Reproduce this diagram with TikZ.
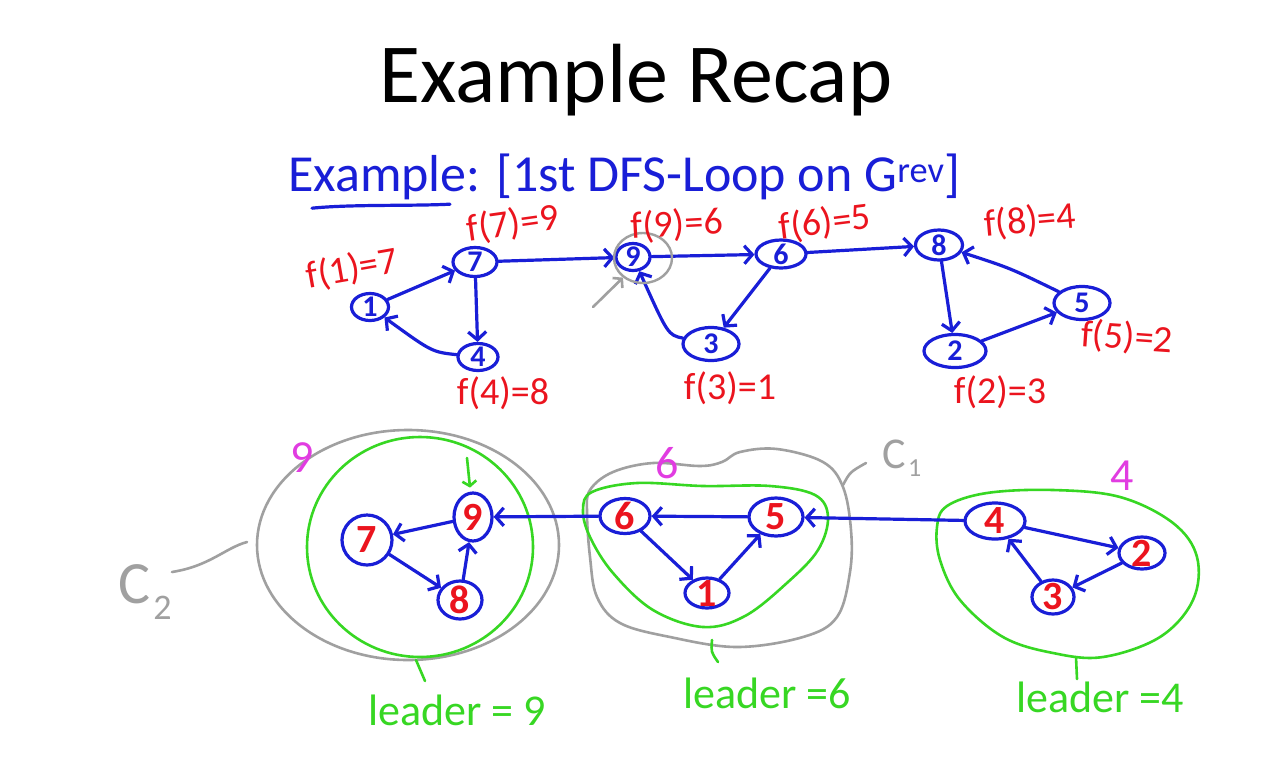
\documentclass[tikz,border=0pt]{standalone}
\usepackage{fontspec}
\setmainfont{Carlito}
\usetikzlibrary{arrows.meta,shapes.geometric,calc}
\definecolor{inkblue}{RGB}{25,30,215}
\definecolor{inkred}{RGB}{235,20,30}
\definecolor{inkgreen}{RGB}{55,215,35}
\definecolor{inkgray}{RGB}{160,160,160}
\definecolor{inkpink}{RGB}{225,60,225}
\tikzset{
  vtx/.style={ellipse, draw=inkblue, line width=3.2pt, inner sep=-3pt},
  topv/.style={vtx, text=inkblue, font=\fontsize{30}{30}\selectfont\bfseries},
  botv/.style={vtx, text=inkred, font=\fontsize{40}{40}\selectfont\bfseries},
  edge/.style={draw=inkblue, line width=3.2pt, line cap=round,
    -{Straight Barb[length=8pt,width=18pt]}},
  flab/.style={text=inkred, font=\fontsize{38}{38}\selectfont, inner sep=0pt},
  glab/.style={text=inkgreen, font=\fontsize{44}{44}\selectfont, inner sep=0pt},
  plab/.style={text=inkpink, font=\fontsize{46}{46}\selectfont, inner sep=0pt},
  graylab/.style={text=inkgray, inner sep=0pt},
  grayline/.style={draw=inkgray, line width=2.6pt, line cap=round},
  greenline/.style={draw=inkgreen, line width=2.6pt, line cap=round},
}
\begin{document}
\begin{tikzpicture}[x=1pt,y=-1pt]
\useasboundingbox[fill=white] (0,0) rectangle (1263,756);

% heading
\node[font=\fontsize{84}{84}\selectfont] (title) at (636,80) {Example Recap};
\node[anchor=west, text=inkblue, font=\fontsize{52}{52}\selectfont, inner sep=0pt]
  (hdr) at (288,177) {Example: [1st DFS-Loop on G\textsuperscript{rev}]};
\draw[draw=inkblue, line width=3.2pt, line cap=round]
  (hdr.south west) ++(24,8) .. controls +(40,-4) and +(-40,2) .. ++(138,-4);

% ---- first pass on the reversed graph ----
\node[topv, minimum width=37, minimum height=27] (t1) at (370,307) {1};
\node[topv, minimum width=44, minimum height=29] (t7) at (475,262) {7};
\node[topv, minimum width=40, minimum height=27] (t4) at (478,357) {4};
\node[topv, minimum width=34, minimum height=27] (t9) at (633,257) {9};
\node[topv, minimum width=50, minimum height=28] (t6) at (781,254) {6};
\node[topv, minimum width=56, minimum height=33] (t3) at (711,344) {3};
\node[topv, minimum width=47, minimum height=30] (t8) at (939,245) {8};
\node[topv, minimum width=56, minimum height=33] (t5) at (1082,303) {5};
\node[topv, minimum width=62, minimum height=33] (t2) at (955,351) {2};

\draw[edge] (t1) -- (t7);
\draw[edge] (t7) -- (t4);
\draw[edge] (t4) .. controls (432,352) .. (t1);
\draw[edge] (t7) -- (t9);
\draw[edge] (t9) -- (t6);
\draw[edge] (t6) -- (t3);
\draw[edge] (t3) .. controls (668,335) .. (t9);
\draw[edge] (t6) -- (t8);
\draw[edge] (t8) -- (t2);
\draw[edge] (t2) -- (t5);
\draw[edge] (t5) .. controls (1010,268) .. (t8);

% gray ring marking the start vertex
\node[ellipse, draw=inkgray, line width=2.4pt, minimum width=58, minimum height=50]
  (ring) at (643,258) {};
\coordinate (ringtail) at (593,307);
\draw[grayline, -{Straight Barb[length=6pt,width=14pt]}] (ringtail) -- (ring);

% finishing times
\node[flab, rotate=10] (f1) at (352,269) {f(1)=7};
\node[flab, rotate=8] (f7) at (513,224) {f(7)=9};
\node[flab] (f4) at (503,393) {f(4)=8};
\node[flab, rotate=3] (f9) at (677,225) {f(9)=6};
\node[flab, rotate=7] (f6) at (825,223) {f(6)=5};
\node[flab] (f3) at (730,388) {f(3)=1};
\node[flab, rotate=5] (f8) at (1030,221) {f(8)=4};
\node[flab, rotate=-4] (f5) at (1127,338) {f(5)=2};
\node[flab] (f2) at (1000,392) {f(2)=3};

% ---- strongly connected components ----
% left component
\node[ellipse, draw=inkgray, line width=2.6pt, minimum width=302, minimum height=230]
  (c2) at (408,545) {};
\node[ellipse, draw=inkgreen, line width=2.6pt, minimum width=226, minimum height=220]
  (g1) at (420,547) {};
\node[botv, minimum width=50, minimum height=50] (b7) at (367,540) {7};
\node[botv, minimum width=38, minimum height=48] (b9) at (473,517) {9};
\node[botv, minimum width=44, minimum height=38] (b8) at (460,600) {8};
\draw[edge] (b9) -- (b7);
\draw[edge] (b7) -- (b8);
\draw[edge] (b8) -- (b9);
\coordinate (gtop) at (467,458);
\draw[greenline, -{Straight Barb[length=5pt,width=14pt]}, shorten >=4pt] (gtop) -- (b9);
\node[plab] (p9) at (302,458) {9};

\node[graylab, font=\fontsize{60}{60}\selectfont] (c2lab) at (145,592)
  {C\kern3pt\raisebox{-16pt}{\fontsize{36}{36}\selectfont 2}};
\coordinate (c2a) at (172,572);
\coordinate (c2b) at (247,542);
\draw[grayline] (c2a) .. controls (210,566) and (225,548) .. (c2b);

\coordinate (l1a) at (416,660);
\coordinate (l1b) at (425,681);
\draw[greenline] (l1a) -- (l1b);
\node[glab] (ld1) at (457,710) {leader = 9};

% middle component
\draw[grayline] plot[smooth cycle, tension=0.6] coordinates {
  (590,490) (613,472) (653,463) (700,466) (722,462) (740,452) (777,449)
  (823,462) (843,487) (851,530) (850,572) (837,617) (803,637) (737,647)
  (670,637) (620,623) (597,597) (590,557) (587,513)};
\draw[greenline] plot[smooth cycle, tension=0.6] coordinates {
  (592,492) (637,483) (703,486) (770,486) (815,495) (828,517) (818,550)
  (788,582) (745,616) (703,627) (653,610) (613,573) (590,537) (583,510)};
\node[botv, minimum width=50, minimum height=35] (m6) at (625,516) {6};
\node[botv, minimum width=54, minimum height=38] (m5) at (776,517) {5};
\node[botv, minimum width=44, minimum height=30] (m1) at (707,593) {1};
\draw[edge] (m5) -- (m6);
\draw[edge] (m6) -- (m1);
\draw[edge] (m1) -- (m5);
\node[plab] (p6) at (667,463) {6};

\coordinate (c1a) at (843,485);
\coordinate (c1b) at (866,463);
\draw[grayline] (c1a) .. controls (850,472) .. (c1b);
\node[graylab, font=\fontsize{44}{44}\selectfont] (c1lab) at (902,458)
  {C\kern2pt\raisebox{-8pt}{\fontsize{26}{26}\selectfont 1}};

\coordinate (l2a) at (712,640);
\coordinate (l2b) at (718,662);
\draw[greenline] (l2a) .. controls (711,652) .. (l2b);
\node[glab] (ld2) at (767,693) {leader =6};

% right component
\draw[greenline] plot[smooth cycle, tension=0.6] coordinates {
  (947,506) (987,493) (1053,490) (1120,497) (1173,523) (1197,557) (1193,600)
  (1160,637) (1103,657) (1053,653) (1003,637) (960,600) (940,560) (937,527)};
\node[botv, minimum width=60, minimum height=36] (r4) at (995,521) {4};
\node[botv, minimum width=46, minimum height=32] (r2) at (1142,553) {2};
\node[botv, minimum width=42, minimum height=34] (r3) at (1053,597) {3};
\draw[edge] (r4) -- (r2);
\draw[edge] (r2) -- (r3);
\draw[edge] (r3) -- (r4);
\node[plab] (p4) at (1122,476) {4};

\coordinate (l3a) at (1076,657);
\coordinate (l3b) at (1077,679);
\draw[greenline] (l3a) -- (l3b);
\node[glab] (ld3) at (1100,697) {leader =4};

% edges between components
\draw[edge] (r4) -- (m5);
\draw[edge] (m6) -- (b9);
\end{tikzpicture}
\end{document}
